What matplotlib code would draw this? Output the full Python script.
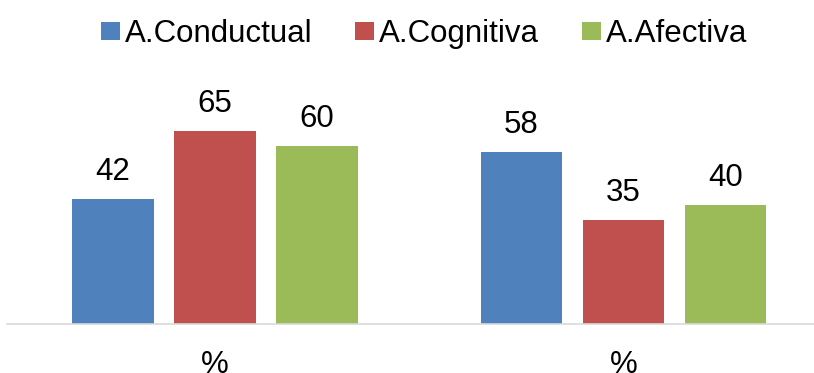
import matplotlib
matplotlib.use("Agg")
import matplotlib.pyplot as plt
from matplotlib.patches import Patch
import numpy as np

plt.rcParams['font.family'] = ['Liberation Sans', 'DejaVu Sans']

categories = ["%", "%"]
series_names = ["A.Conductual", "A.Cognitiva", "A.Afectiva"]
conductual = [42, 58]
cognitiva = [65, 35]
afectiva = [60, 40]
colors = ["#4F81BD", "#C0504D", "#9BBB59"]

W, H = 814, 373
FS = 22.5
fig = plt.figure(figsize=(W / 100, H / 100), dpi=100)
ax = fig.add_axes([7 / W, 49 / H, 807 / W, (324 - 116) / H])

x = np.arange(len(categories))
offsets = [-0.25, 0.0, 0.25]
width = 0.2
for vals, off, col, name in zip([conductual, cognitiva, afectiva], offsets, colors, series_names):
    bars = ax.bar(x + off, vals, width, color=col, label=name, zorder=2)
    for b, v in zip(bars, vals):
        ax.annotate(f"{v}", (b.get_x() + b.get_width() / 2, v),
                    xytext=(0, 13.7), textcoords="offset points",
                    ha="center", va="baseline", fontsize=FS, color="#000000")

ax.set_ylim(0, 70)
ax.set_xlim((7 - 215) / 408.5, (814 - 215) / 408.5)
ax.set_xticks(x)
ax.set_xticklabels(categories, fontsize=FS)
ax.tick_params(axis="x", length=0, pad=18.5)
ax.set_yticks([])
for s in ["top", "left", "right"]:
    ax.spines[s].set_visible(False)
ax.spines["bottom"].set_color("#D9D9D9")
ax.spines["bottom"].set_linewidth(1.2)

handles = [Patch(facecolor=c, edgecolor="none") for c in colors]
fig.legend(handles, series_names, loc="center", bbox_to_anchor=(424 / W, 1 - 34 / H),
           ncol=3, fontsize=FS, frameon=False, handlelength=0.61, handleheight=0.54,
           handletextpad=0.17, columnspacing=1.35, borderpad=0, borderaxespad=0)

fig.savefig("out.png", dpi=100)
